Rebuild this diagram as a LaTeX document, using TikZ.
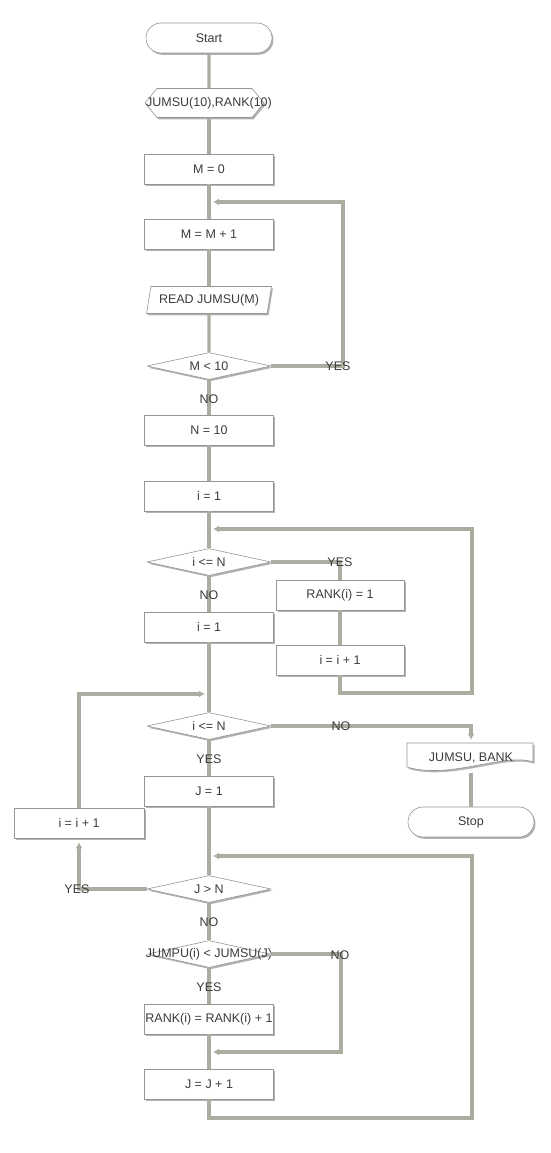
\documentclass[tikz,border=0pt]{standalone}
\usepackage{fontspec}
\setmainfont{Liberation Sans}
\usetikzlibrary{shapes.geometric,shapes.misc,shadows,arrows.meta}
\definecolor{lncol}{RGB}{172,172,160}
\definecolor{bdcol}{RGB}{150,150,150}
\definecolor{txcol}{RGB}{60,60,60}
\newcommand{\zw}[1]{\makebox[0pt]{#1}}
\begin{document}
\begin{tikzpicture}[x=1pt,y=-1pt,
  font=\fontsize{12.5}{14}\selectfont, text=txcol,
  shd/.style={drop shadow={shadow xshift=1.5pt,shadow yshift=-1.8pt,fill=black!60,opacity=0.5}},
  base/.style={draw=bdcol, line width=0.6pt, fill=white, shd, inner sep=0pt},
  procbox/.style={base, rectangle, minimum width=129pt, minimum height=30pt},
  termbox/.style={base, rounded rectangle, minimum width=126pt, minimum height=30pt},
  iobox/.style={base, trapezium, trapezium left angle=72, trapezium right angle=108, trapezium stretches=true, minimum width=125pt, minimum height=27pt},
  decbox/.style={base, diamond, minimum width=124pt, minimum height=27pt},
  plain/.style={inner sep=0pt, minimum width=120pt, minimum height=29pt},
  conn/.style={draw=lncol, line width=3.2pt},
  arr/.style={conn, -{Latex[length=6pt,width=7pt]}, shorten >=4pt},
  lbl/.style={inner sep=0pt}
]
\useasboundingbox (0,0) rectangle (550,1153);
\fill[white] (0,0) rectangle (550,1153);

% ---- nodes ----
\node[termbox] (start) at (209,38) {Start};
\path[base] (145,103) -- (157,88.5) -- (252,88.5) -- (264,103) -- (252,117.5) -- (157,117.5) -- cycle;
\node[plain] (prep) at (209,103) {JUMSU(10),RANK(10)};
\node[procbox] (m0) at (209,169) {M = 0};
\node[procbox] (m1) at (209,234) {M = M + 1};
\node[iobox] (read) at (209,300) {READ JUMSU(M)};
\node[decbox] (d1) at (209,366) {\zw{M < 10}};
\node[procbox] (n10) at (209,430) {N = 10};
\node[procbox] (i1) at (209,496) {i = 1};
\node[decbox] (d2) at (209,562) {\zw{i <= N}};
\node[procbox, minimum width=128pt] (r1) at (340,595) {RANK(i) = 1};
\node[procbox, minimum width=128pt] (r2) at (340,660) {i = i + 1};
\node[procbox] (i1b) at (209,627) {i = 1};
\node[decbox] (d3) at (209,726) {\zw{i <= N}};
\path[base] (407,743) -- (533,743) -- (533,762) .. controls (505,752) and (450,780) .. (407,767) -- cycle;
\node[lbl, minimum width=126pt, minimum height=30pt] (doc) at (471,758) {JUMSU, BANK};
\node[termbox] (stop) at (471,822) {Stop};
\node[procbox] (j1) at (209,791) {J = 1};
\node[procbox, minimum width=130pt] (ip) at (79,823) {i = i + 1};
\node[decbox] (d4) at (209,889) {\zw{J > N}};
\node[decbox, minimum width=122pt] (d5) at (209,954) {\zw{JUMPU(i) < JUMSU(J)}};
\node[procbox] (rr) at (209,1019) {\zw{RANK(i) = RANK(i) + 1}};
\node[procbox] (jj) at (209,1084) {J = J + 1};

% ---- junction coordinates ----
\coordinate (cA) at (209,202);
\coordinate (cAr) at (343,202);
\coordinate (cB) at (209,529);
\coordinate (cBr) at (472,693);
\coordinate (cC) at (209,694);
\coordinate (cD) at (209,856);
\coordinate (cDr) at (472,1118);
\coordinate (cE) at (209,1052);
\coordinate (cEr) at (341,1052);

% ---- connectors ----
\draw[conn] (start) -- (prep);
\draw[conn] (prep) -- (m0);
\draw[conn] (m0) -- (m1);
\draw[conn] (m1) -- (read);
\draw[conn] (read) -- (d1);
\draw[arr] (d1.east) -| (cAr) -- (cA);
\draw[conn] (d1) -- (n10);
\draw[conn] (n10) -- (i1);
\draw[conn] (i1) -- (d2);
\draw[conn] (d2.east) -| (r1.north);
\draw[conn] (r1) -- (r2);
\draw[arr] (r2.south) |- (cBr) |- (cB);
\draw[conn] (d2) -- (i1b);
\draw[conn] (i1b) -- (d3);
\draw[arr] (ip.north) |- (cC);
\draw[arr, shorten >=3pt] (d3.east) -| (doc.north);
\draw[conn] (doc.south) -- (stop.north);
\draw[conn] (d3) -- (j1);
\draw[conn] (j1) -- (d4);
\draw[arr] (d4.west) -| (ip.south);
\draw[conn] (d4) -- (d5);
\draw[arr] (d5.east) -| (cEr) -- (cE);
\draw[conn] (d5) -- (rr);
\draw[conn] (rr) -- (jj);
\draw[arr] (jj.south) |- (cDr) |- (cD);

% ---- labels ----
\node[lbl] (l1) at (338,366) {YES};
\node[lbl] (l2) at (209,399) {NO};
\node[lbl] (l3) at (340,562) {YES};
\node[lbl] (l4) at (209,595) {NO};
\node[lbl] (l5) at (341,726) {NO};
\node[lbl] (l6) at (209,759) {YES};
\node[lbl] (l7) at (77,889) {YES};
\node[lbl] (l8) at (209,922) {NO};
\node[lbl] (l9) at (340,955) {NO};
\node[lbl] (l10) at (209,987) {YES};
\end{tikzpicture}
\end{document}
